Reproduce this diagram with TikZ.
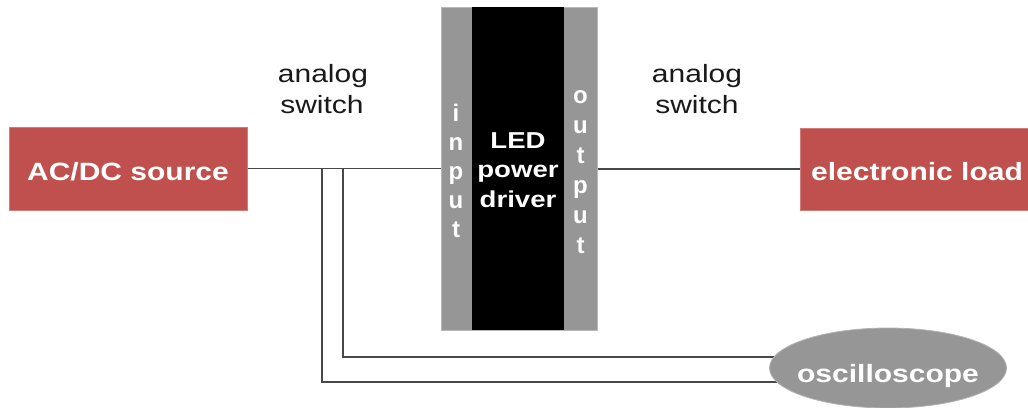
\documentclass[tikz,border=0pt]{standalone}
\usepackage{fontspec}
\setmainfont{Liberation Sans}
\usetikzlibrary{shapes.geometric,backgrounds}
\definecolor{boxred}{HTML}{C0504D}
\definecolor{bargray}{HTML}{969696}
\definecolor{wirecol}{HTML}{484848}
\newcommand{\hs}[1]{\scalebox{1.2}[1]{#1}}
\begin{document}
\begin{tikzpicture}[x=1pt,y=-1pt,
  redbox/.style={rectangle,fill=boxred,draw=boxred!75!white,line width=0.8pt,text=white,
    font=\fontsize{25}{30}\selectfont\bfseries,inner sep=0pt,text height=23pt,text depth=0pt},
  barstyle/.style={rectangle,fill=bargray,draw=gray!55,line width=0.8pt,inner sep=0pt},
  corestyle/.style={rectangle,fill=black,inner sep=0pt},
  drvtext/.style={anchor=base,text=white,font=\fontsize{23}{27}\selectfont\bfseries,inner sep=0pt},
  barletter/.style={anchor=base,text=white,font=\fontsize{24}{28}\selectfont\bfseries,inner sep=0pt},
  labeltext/.style={anchor=base,text=black!90,font=\fontsize{25}{30}\selectfont,inner sep=0pt},
  oscstyle/.style={ellipse,fill=bargray,draw=gray!60,line width=0.8pt,text=white,inner sep=0pt,
    font=\fontsize{25}{30}\selectfont\bfseries,text height=28pt,text depth=0pt},
  wire/.style={draw=wirecol,line width=1.1pt}
]
\useasboundingbox (0,0) rectangle (1028,407);

\node[redbox,minimum width=238,minimum height=83] (src) at (128,168.5) {\hs{AC/DC source}};
\node[redbox,minimum width=228,minimum height=82] (load) at (914,169) {\hspace{6pt}\hs{electronic load}};

\node[barstyle,minimum width=156,minimum height=323] (drv) at (519,168.5) {};
\node[corestyle,minimum width=92,minimum height=323] (core) at (518,168.5) {};
\node[drvtext] (d1) at (518,148) {\hs{LED}};
\node[drvtext] (d2) at (518,177.5) {\hs{power}};
\node[drvtext] (d3) at (518,207) {\hs{driver}};

\foreach \c/\yy [count=\i] in {i/121,n/150,p/179,u/208,t/237}
  \node[barletter] (in\i) at (456,\yy) {\c};
\foreach \c/\yy [count=\i] in {o/103,u/133,t/163,p/193,u/223,t/253}
  \node[barletter] (out\i) at (580.5,\yy) {\c};

\node[labeltext] (swa1) at (323,82) {\hs{analog}};
\node[labeltext] (swa2) at (322,113) {\hs{switch}};
\node[labeltext] (swb1) at (697,82) {\hs{analog}};
\node[labeltext] (swb2) at (697,113) {\hs{switch}};

\node[oscstyle,minimum width=237,minimum height=80] (osc) at (888,368) {\makebox[0pt]{\hs{oscilloscope}}};

\coordinate (tapA) at (322,168.5);
\coordinate (tapB) at (343,168.5);

\begin{scope}[on background layer]
\draw[wire] (src.east) -- (drv.west |- src.east);
\draw[wire] (drv.east |- load.west) -- (load.west);
\draw[wire] (tapB) |- ([yshift=11pt]osc.center);
\draw[wire] (tapA) |- ([yshift=-14pt]osc.center);
\end{scope}
\end{tikzpicture}
\end{document}
